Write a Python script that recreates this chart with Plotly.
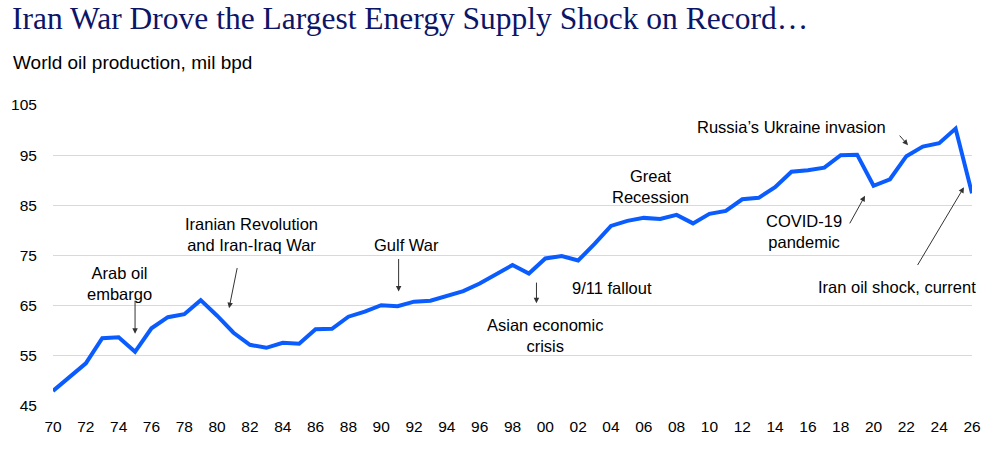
import plotly.graph_objects as go

years = list(range(1970, 2027))
production = [48.0, 50.7, 53.5, 58.5, 58.7, 55.8, 60.5, 62.7, 63.3, 66.1,
              63.0, 59.6, 57.2, 56.6, 57.6, 57.4, 60.3, 60.4, 62.8, 63.8,
              65.1, 64.9, 65.8, 66.0, 66.9, 67.9, 69.4, 71.2, 73.1, 71.4,
              74.4, 74.9, 74.0, 77.3, 80.9, 81.9, 82.5, 82.3, 83.1, 81.4,
              83.3, 83.9, 86.2, 86.5, 88.6, 91.7, 92.0, 92.5, 95.0, 95.1,
              88.9, 90.2, 94.8, 96.7, 97.4, 100.3, 87.4]

x_tickvals = list(range(1970, 2027, 2))
x_ticktext = [f"{y % 100:02d}" for y in x_tickvals]
y_tickvals = [45, 55, 65, 75, 85, 95, 105]

# event labels: text, x, y
labels = [
    ("Arab oil<br>embargo", 1974.08, 69.5),
    ("Iranian Revolution<br>and Iran-Iraq War", 1982.1, 79.1),
    ("Gulf War", 1991.55, 77.0),
    ("Asian economic<br>crisis", 2000.0, 59.15),
    ("9/11 fallout", 2004.08, 68.5),
    ("Great<br>Recession", 2006.4, 88.85),
    ("Russia\u2019s Ukraine invasion", 2015.0, 100.67),
    ("COVID-19<br>pandemic", 2015.77, 79.7),
    ("Iran oil shock, current", 2021.45, 68.7),
]
# arrows: tail x, tail y, tip x, tip y
arrows = [
    (1975.0, 66.3, 1975.0, 59.4),
    (1981.24, 72.8, 1980.73, 64.5),
    (1991.06, 74.6, 1991.06, 67.8),
    (1999.46, 69.9, 1999.46, 65.5),
    (2021.51, 99.2, 2022.1, 97.0),
    (2018.5, 81.1, 2019.48, 86.9),
    (2022.63, 72.8, 2025.51, 88.6),
]

fig = go.Figure()
fig.add_trace(go.Scatter(
    x=years, y=production, mode="lines",
    line=dict(color="#0a5cff", width=4), hoverinfo="skip", showlegend=False))

annotations = []
for text, x, y in labels:
    annotations.append(dict(
        x=x, y=y, xref="x", yref="y", text=text, showarrow=False,
        font=dict(family="Arial, Liberation Sans, sans-serif", size=16.5, color="#000000"),
        align="center", xanchor="center", yanchor="middle"))
for tx, ty, hx, hy in arrows:
    annotations.append(dict(
        x=hx, y=hy, ax=tx, ay=ty, xref="x", yref="y", axref="x", ayref="y",
        text="", showarrow=True, arrowhead=2, arrowsize=1.1, arrowwidth=1,
        arrowcolor="#333333", standoff=0, startstandoff=0))

# plot area spans x 53..972 px, y 105..406 px
annotations.append(dict(
    x=(10 - 53) / 919, y=(406 - 19) / 301, xref="paper", yref="paper",
    text="Iran War Drove the Largest Energy Supply Shock on Record\u2026",
    showarrow=False, xanchor="left", yanchor="middle",
    font=dict(family="Times New Roman, Liberation Serif, serif", size=31.5, color="#0d1566")))
annotations.append(dict(
    x=(11 - 53) / 919, y=(406 - 62) / 301, xref="paper", yref="paper",
    text="World oil production, mil bpd",
    showarrow=False, xanchor="left", yanchor="middle",
    font=dict(family="Arial, Liberation Sans, sans-serif", size=19, color="#000000")))

fig.update_layout(
    width=1000, height=456,
    margin=dict(l=53, r=28, t=105, b=50),
    paper_bgcolor="white", plot_bgcolor="white",
    annotations=annotations,
    font=dict(family="Arial, Liberation Sans, sans-serif", color="#000000"),
)
fig.update_xaxes(
    range=[1970, 2026], tickmode="array", tickvals=x_tickvals, ticktext=x_ticktext,
    showgrid=False, zeroline=False, showline=False,
    ticks="outside", ticklen=6, tickcolor="rgba(0,0,0,0)",
    tickfont=dict(size=15.5, color="#000000"))
fig.update_yaxes(
    range=[45, 105], tickmode="array", tickvals=y_tickvals,
    showgrid=True, gridcolor="#d9d9d9", gridwidth=1, zeroline=False, showline=False,
    ticks="outside", ticklen=12, tickcolor="rgba(0,0,0,0)",
    tickfont=dict(size=15.5, color="#000000"))

fig.write_html("out.html")
